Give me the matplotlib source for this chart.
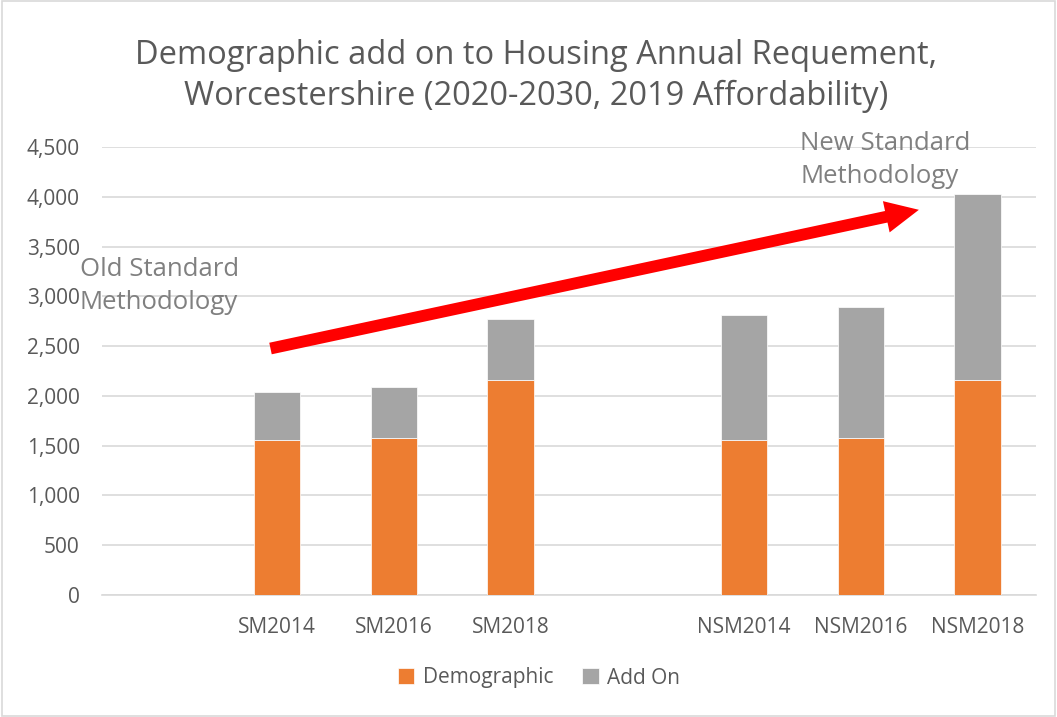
import matplotlib.pyplot as plt
import numpy as np
from matplotlib.patches import Rectangle

# Data
categories = ['', 'SM2014', 'SM2016', 'SM2018', '', 'NSM2014', 'NSM2016', 'NSM2018']
demographic = [0, 1555, 1575, 2155, 0, 1555, 1575, 2158]
add_on = [0, 485, 515, 620, 0, 1262, 1315, 1866]
y_ticks = [0, 500, 1000, 1500, 2000, 2500, 3000, 3500, 4000, 4500]

orange = '#ED7D31'
grey = '#A5A5A5'
text_col = '#595959'

plt.rcParams['font.family'] = ['Open Sans', 'DejaVu Sans']

fig = plt.figure(figsize=(10.57, 7.17), dpi=100)
ax = fig.add_axes([102 / 1057, 1 - 595 / 717, (1036 - 102) / 1057, (595 - 147) / 717])

x = np.arange(len(categories))
ax.bar(x, demographic, width=0.4, color=orange, label='Demographic', zorder=3,
       edgecolor='white', linewidth=0.5)
ax.bar(x, add_on, width=0.4, bottom=demographic, color=grey, label='Add On', zorder=3,
       edgecolor='white', linewidth=0.5)

ax.set_xlim(-0.5, len(categories) - 0.5)
ax.set_ylim(0, 4500)
ax.set_yticks(y_ticks)
ax.set_yticklabels([f'{v:,}' for v in y_ticks])
ax.set_xticks(x)
ax.set_xticklabels(categories)
ax.tick_params(axis='both', length=0, labelsize=15, colors=text_col)
ax.tick_params(axis='x', pad=16)
ax.tick_params(axis='y', pad=16)
ax.grid(axis='y', color='#D9D9D9', linewidth=1.2, zorder=0)
for s in ['top', 'right', 'left']:
    ax.spines[s].set_visible(False)
ax.spines['bottom'].set_color('#D9D9D9')
ax.spines['bottom'].set_linewidth(1.2)

# Trend arrow from old to new methodology
ax.annotate('', xy=(6.52, 3875), xytext=(0.92, 2470),
            arrowprops=dict(arrowstyle='simple,head_length=2.4,head_width=2.3,tail_width=0.85',
                            color='red', lw=0), annotation_clip=False, zorder=5)

ax.text(-0.69, 3100, 'Old Standard\nMethodology', fontsize=18.5, color='#808080',
        va='center', ha='left', linespacing=1.42, zorder=6)
ax.text(5.48, 4370, 'New Standard\nMethodology', fontsize=18.5, color='#808080',
        va='center', ha='left', linespacing=1.42, zorder=6)

fig.text(0.507, 1 - 76 / 717, 'Demographic add on to Housing Annual Requement,\nWorcestershire (2020-2030, 2019 Affordability)',
         ha='center', va='center', fontsize=23.5, color=text_col, linespacing=1.32)

fig.legend(loc='center', bbox_to_anchor=(0.51, 1 - 678 / 717), ncol=2, frameon=False,
           fontsize=15, labelcolor=text_col, handlelength=0.8, handleheight=0.8,
           handletextpad=0.4, columnspacing=1.4)

fig.patches.append(Rectangle((0.002, 0.002), 0.996, 0.996, transform=fig.transFigure,
                             fill=False, edgecolor='#D9D9D9', linewidth=1.2))

fig.savefig('out.png', dpi=100)
